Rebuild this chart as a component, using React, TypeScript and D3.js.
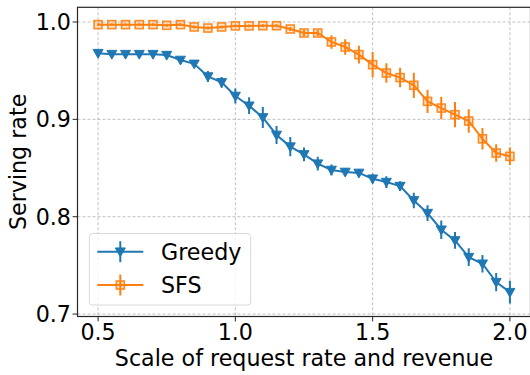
import React from "react";
import * as d3 from "d3";

const scales = [0.5,0.55,0.6,0.65,0.7,0.75,0.8,0.85,0.9,0.95,1.0,1.05,1.1,1.15,1.2,1.25,1.3,1.35,1.4,1.45,1.5,1.55,1.6,1.65,1.7,1.75,1.8,1.85,1.9,1.95,2.0];
const greedy = [0.968,0.967,0.967,0.967,0.967,0.966,0.961,0.957,0.944,0.938,0.924,0.914,0.902,0.884,0.872,0.864,0.8545,0.848,0.846,0.845,0.839,0.8356,0.8315,0.8167,0.8037,0.7866,0.7756,0.7585,0.7517,0.7328,0.7225];
const greedyErr = [0.0015,0.0015,0.0015,0.0015,0.0015,0.002,0.002,0.003,0.0056,0.0056,0.0077,0.0086,0.0108,0.0092,0.0098,0.007,0.007,0.0057,0.004,0.004,0.005,0.006,0.005,0.008,0.008,0.0096,0.0086,0.009,0.009,0.0094,0.0116];
const sfs = [0.9973,0.9973,0.9973,0.9973,0.9973,0.9966,0.9973,0.9949,0.9938,0.9949,0.996,0.996,0.9962,0.9962,0.9928,0.9887,0.9887,0.9795,0.9743,0.9665,0.9562,0.9476,0.9429,0.935,0.9185,0.9116,0.9048,0.8983,0.88,0.8654,0.862];
const sfsErr = [0.0015,0.0015,0.0015,0.0015,0.0015,0.0015,0.0015,0.0015,0.0015,0.0015,0.0015,0.0015,0.0015,0.0015,0.002,0.003,0.003,0.007,0.008,0.009,0.013,0.01,0.01,0.013,0.012,0.0116,0.013,0.012,0.011,0.009,0.009];
const xTicks = [0.5, 1.0, 1.5, 2.0];
const yTicks = [0.7, 0.8, 0.9, 1.0];
const seriesNames = ["Greedy", "SFS"];

const W = 530, H = 375;
const left = 77.5, right = 530.5, top = 7.3, bottom = 316.5;
const FONT = "DejaVu Sans, sans-serif";
const FS = 22.2;
const BLUE = "#1f77b4", ORANGE = "#ff7f0e";

export default function App() {
  const x = d3.scaleLinear().domain([0.425, 2.075]).range([left, right]);
  const y = d3.scaleLinear().domain([0.6975, 1.0151]).range([bottom, top]);
  const line = d3.line<number>().x((_, i) => x(scales[i])).y((d) => y(d));

  const tri = (cx: number, cy: number, r: number) =>
    `M${cx - r},${cy - r * 0.75} L${cx + r},${cy - r * 0.75} L${cx},${cy + r} Z`;

  const series = [
    { name: seriesNames[0], vals: greedy, err: greedyErr, color: BLUE, marker: "v" },
    { name: seriesNames[1], vals: sfs, err: sfsErr, color: ORANGE, marker: "s" },
  ];

  const drawMarker = (m: string, cx: number, cy: number, color: string, key: any) =>
    m === "v" ? (
      <path key={key} d={tri(cx, cy, 5)} fill={color} stroke={color} strokeWidth={1} />
    ) : (
      <rect key={key} x={cx - 4} y={cy - 4} width={8} height={8} fill={color} fillOpacity={0.25} stroke={color} strokeWidth={1.6} opacity={0.9} />
    );

  return (
    <svg width={W} height={H} style={{ position: "absolute", left: 0, top: 0, background: "#fff" }} fontFamily={FONT}>
      <defs>
        <clipPath id="plotclip">
          <rect x={left} y={top} width={right - left} height={bottom - top} />
        </clipPath>
      </defs>
      {xTicks.map((t) => (
        <line key={"gx" + t} x1={x(t)} x2={x(t)} y1={top} y2={bottom} stroke="#b0b0b0" strokeWidth={0.8} strokeDasharray="3,2" />
      ))}
      {yTicks.map((t) => (
        <line key={"gy" + t} x1={left} x2={right} y1={y(t)} y2={y(t)} stroke="#b0b0b0" strokeWidth={0.8} strokeDasharray="3,2" />
      ))}
      <g clipPath="url(#plotclip)">
        {series.map((s) => (
          <g key={s.name}>
            <path d={line(s.vals) || ""} fill="none" stroke={s.color} strokeWidth={2} />
            {s.vals.map((v, i) => (
              <line key={"e" + i} x1={x(scales[i])} x2={x(scales[i])} y1={y(v - s.err[i])} y2={y(v + s.err[i])} stroke={s.color} strokeWidth={2} />
            ))}
            {s.vals.map((v, i) => drawMarker(s.marker, x(scales[i]), y(v), s.color, "m" + i))}
          </g>
        ))}
      </g>
      <rect x={left} y={top} width={right - left} height={bottom - top} fill="none" stroke="#262626" strokeWidth={1.2} />
      {xTicks.map((t) => (
        <g key={"tx" + t}>
          <line x1={x(t)} x2={x(t)} y1={bottom} y2={bottom + 4.9} stroke="#262626" strokeWidth={1} />
          <text x={x(t)} y={bottom + 6.5} dy="0.76em" textAnchor="middle" fontSize={FS} fill="#000">{t.toFixed(1)}</text>
        </g>
      ))}
      {yTicks.map((t) => (
        <g key={"ty" + t}>
          <line x1={left - 4.9} x2={left} y1={y(t)} y2={y(t)} stroke="#262626" strokeWidth={1} />
          <text x={left - 6.5} y={y(t)} dy="0.36em" textAnchor="end" fontSize={FS} fill="#000">{t.toFixed(1)}</text>
        </g>
      ))}
      <text x={(left + right) / 2} y={366} textAnchor="middle" fontSize={FS} fill="#000">Scale of request rate and revenue</text>
      <text transform={`translate(26,${(top + bottom) / 2}) rotate(-90)`} textAnchor="middle" fontSize={FS} fill="#000">Serving rate</text>
      <g>
        <rect x={89.3} y={233.5} width={161.4} height={71.5} rx={3} fill="#fff" fillOpacity={0.8} stroke="#d9d9d9" strokeWidth={1} />
        {series.map((s, i) => {
          const ly = 251.7 + i * 33.3;
          return (
            <g key={"lg" + s.name}>
              <line x1={97.3} x2={143.3} y1={ly} y2={ly} stroke={s.color} strokeWidth={2} />
              <line x1={120.3} x2={120.3} y1={ly - 10.5} y2={ly + 10.5} stroke={s.color} strokeWidth={2} />
              {drawMarker(s.marker, 120.3, ly, s.color, "lm")}
              <text x={161} y={ly} dy="0.36em" fontSize={FS} fill="#000">{s.name}</text>
            </g>
          );
        })}
      </g>
    </svg>
  );
}
